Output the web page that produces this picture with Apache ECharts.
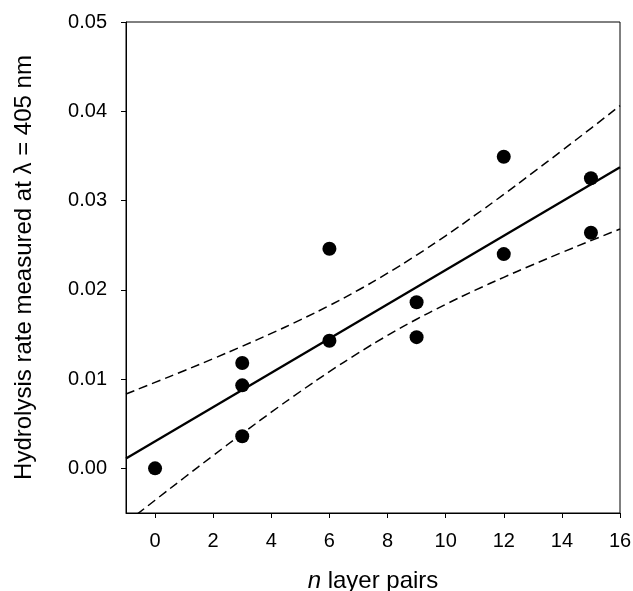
<!DOCTYPE html>
<html>
<head>
<meta charset="utf-8">
<script src="https://cdn.jsdelivr.net/npm/echarts@6/dist/echarts.min.js"></script>
<style>html,body{margin:0;padding:0;background:#fff;}#c{width:633px;height:591px;}</style>
</head>
<body>
<div id="c"></div>
<script>
// Data
const layerPairs = [0, 3, 3, 3, 6, 6, 9, 9, 12, 12, 15, 15];
const hydrolysisRate = [0.0000, 0.0118, 0.0093, 0.0036, 0.0143, 0.0246, 0.0186, 0.0147, 0.0349, 0.0240, 0.0325, 0.0264];

// Regression line endpoints
const fitX = [-1, 16];
const fitY = [0.00111, 0.03372];

// Confidence band curves
const bandX = [-1, 0, 1, 2, 3, 4, 5, 6, 7, 8, 9, 10, 11, 12, 13, 14, 15, 16];
const bandUpper = [0.00833, 0.00963, 0.01094, 0.01229, 0.01368, 0.01512, 0.01663, 0.01824, 0.01998, 0.02186, 0.02389, 0.02605, 0.02833, 0.03069, 0.03312, 0.03559, 0.03809, 0.04063];
const bandLower = [-0.00611, -0.00357, -0.00105, 0.00144, 0.00389, 0.00629, 0.00861, 0.01083, 0.01293, 0.01489, 0.01670, 0.01837, 0.01993, 0.02140, 0.02281, 0.02418, 0.02551, 0.02681];

// Tick values
const xTicks = [0, 2, 4, 6, 8, 10, 12, 14, 16];
const yTicks = [0, 0.01, 0.02, 0.03, 0.04, 0.05];

const zip = (a, b) => a.map((v, i) => [v, b[i]]);
const font = 'Liberation Sans, Arial, sans-serif';

const chart = echarts.init(document.getElementById('c'), null, {renderer: 'canvas'});
chart.setOption({
  animation: false,
  backgroundColor: '#fff',
  grid: {left: 126, right: 13, top: 22, bottom: 78, containLabel: false, outerBoundsMode: 'none',
         show: true, borderColor: '#000', borderWidth: 1, backgroundColor: 'transparent'},
  xAxis: {
    type: 'value', min: -1, max: 16,
    name: '{i|n} layer pairs', nameLocation: 'middle', nameGap: 56,
    nameTextStyle: {fontFamily: font, fontSize: 24, color: '#000', rich: {i: {fontStyle: 'italic', fontFamily: font, fontSize: 24, color: '#000'}}},
    axisLine: {show: true, onZero: false, lineStyle: {color: '#000', width: 1}},
    axisTick: {show: true, inside: false, length: 5, customValues: xTicks, lineStyle: {color: '#000'}},
    axisLabel: {customValues: xTicks, margin: 18, fontFamily: font, fontSize: 20, color: '#000'},
    splitLine: {show: false}
  },
  yAxis: {
    type: 'value', min: -0.005, max: 0.05,
    name: 'Hydrolysis rate measured at \u03bb = 405 nm', nameLocation: 'middle', nameGap: 90,
    nameTextStyle: {fontFamily: font, fontSize: 24, color: '#000'},
    axisLine: {show: true, onZero: false, lineStyle: {color: '#000', width: 1}},
    axisTick: {show: true, inside: false, length: 5, customValues: yTicks, lineStyle: {color: '#000'}},
    axisLabel: {customValues: yTicks, margin: 19, fontFamily: font, fontSize: 20, color: '#000', formatter: v => v.toFixed(2)},
    splitLine: {show: false}
  },
  series: [
    {type: 'line', data: zip(bandX, bandUpper), smooth: true, showSymbol: false, symbol: 'none', clip: true,
     lineStyle: {color: '#000', width: 1.5, type: [9, 5]}, z: 2},
    {type: 'line', data: zip(bandX, bandLower), smooth: true, showSymbol: false, symbol: 'none', clip: true,
     lineStyle: {color: '#000', width: 1.5, type: [9, 5]}, z: 2},
    {type: 'line', data: zip(fitX, fitY), showSymbol: false, symbol: 'none', clip: true,
     lineStyle: {color: '#000', width: 2.3}, z: 3},
    {type: 'scatter', data: zip(layerPairs, hydrolysisRate), symbol: 'circle', symbolSize: 14,
     itemStyle: {color: '#000', opacity: 1}, z: 4}
  ]
});
</script>
</body>
</html>
